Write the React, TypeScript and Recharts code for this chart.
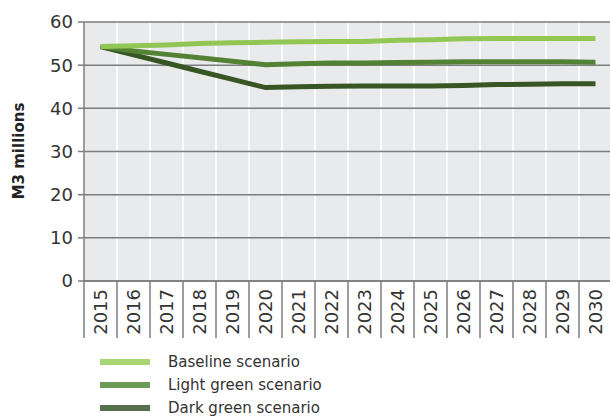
import { LineChart, Line, XAxis, YAxis, CartesianGrid } from "recharts";

const years = [
  "2015", "2016", "2017", "2018", "2019", "2020", "2021", "2022",
  "2023", "2024", "2025", "2026", "2027", "2028", "2029", "2030",
];
const baseline = [54.3, 54.5, 54.7, 55.0, 55.2, 55.3, 55.4, 55.5, 55.5, 55.8, 55.9, 56.1, 56.2, 56.2, 56.2, 56.2];
const lightGreen = [54.3, 53.3, 52.5, 51.7, 50.9, 50.1, 50.3, 50.5, 50.5, 50.6, 50.7, 50.8, 50.8, 50.8, 50.8, 50.7];
const darkGreen = [54.3, 52.4, 50.5, 48.6, 46.7, 44.8, 45.0, 45.1, 45.2, 45.2, 45.2, 45.3, 45.5, 45.6, 45.7, 45.7];
const yTicks = [0, 10, 20, 30, 40, 50, 60];

const series = [
  { key: "baseline", name: "Baseline scenario", color: "#92c755", legend: "#a9d674" },
  { key: "light", name: "Light green scenario", color: "#548235", legend: "#6e9a57" },
  { key: "dark", name: "Dark green scenario", color: "#375623", legend: "#566f4b" },
];

const rows = years.map((y, i) => ({
  year: y,
  baseline: baseline[i],
  light: lightGreen[i],
  dark: darkGreen[i],
}));

const FONT = "'DejaVu Sans', sans-serif";
const GRID = "#7d7d7d";

function YearTick(props: any) {
  const { x, y, payload } = props;
  const half = payload?.offset ?? 0;
  return (
    <g>
      <line x1={x - half} y1={y} x2={x - half} y2={y + 57} stroke={GRID} strokeWidth={1.5} />
      <text
        transform={`translate(${x},${y + 8}) rotate(-90)`}
        textAnchor="end"
        dominantBaseline="central"
        fontSize={18}
        fontFamily={FONT}
        fill="#333"
      >
        {payload.value}
      </text>
    </g>
  );
}

export default function App() {
  return (
    <div style={{ position: "absolute", left: 0, top: 0, width: 610, height: 419, overflow: "hidden", background: "#fff" }}>
      <LineChart width={612} height={345} data={rows} margin={{ top: 22, right: 0, left: 0, bottom: 0 }}>
        <CartesianGrid
          horizontal={false}
          stroke="#ffffff"
          strokeWidth={1.5}
          fill="#e9eaec"
          verticalCoordinatesGenerator={({ offset }: any) =>
            years.map((_, i) => offset.left + (i * offset.width) / years.length)
          }
        />
        <CartesianGrid vertical={false} stroke={GRID} strokeWidth={1.5} />
        <XAxis
          dataKey="year"
          scale="band"
          interval={0}
          height={64}
          tickSize={0}
          tickMargin={0}
          tickLine={false}
          axisLine={{ stroke: GRID, strokeWidth: 1.5 }}
          tick={<YearTick />}
        />
        <YAxis
          width={84}
          domain={[0, 60]}
          ticks={yTicks}
          interval={0}
          tickSize={6}
          tickMargin={5}
          tickLine={{ stroke: GRID, strokeWidth: 1.5 }}
          axisLine={{ stroke: GRID, strokeWidth: 1.5 }}
          tick={{ fill: "#333", fontSize: 18, fontFamily: FONT }}
          label={{
            content: () => (
              <text
                transform="translate(19,151) rotate(-90)"
                textAnchor="middle"
                dominantBaseline="central"
                fontSize={15}
                fontWeight="bold"
                fontFamily={FONT}
                fill="#222"
              >
                M3 millions
              </text>
            ),
          }}
        />
        {[...series].reverse().map((s) => (
          <Line
            key={s.key}
            dataKey={s.key}
            name={s.name}
            type="linear"
            stroke={s.color}
            strokeWidth={5}
            dot={false}
            activeDot={false}
            isAnimationActive={false}
          />
        ))}
      </LineChart>
      <div style={{ position: "absolute", left: 100, top: 350, fontFamily: FONT, fontSize: 15, color: "#333" }}>
        {series.map((s) => (
          <div key={s.key} style={{ display: "flex", alignItems: "center", height: 23 }}>
            <span style={{ display: "inline-block", width: 50, height: 6, background: s.legend, marginRight: 18 }} />
            <span>{s.name}</span>
          </div>
        ))}
      </div>
    </div>
  );
}
